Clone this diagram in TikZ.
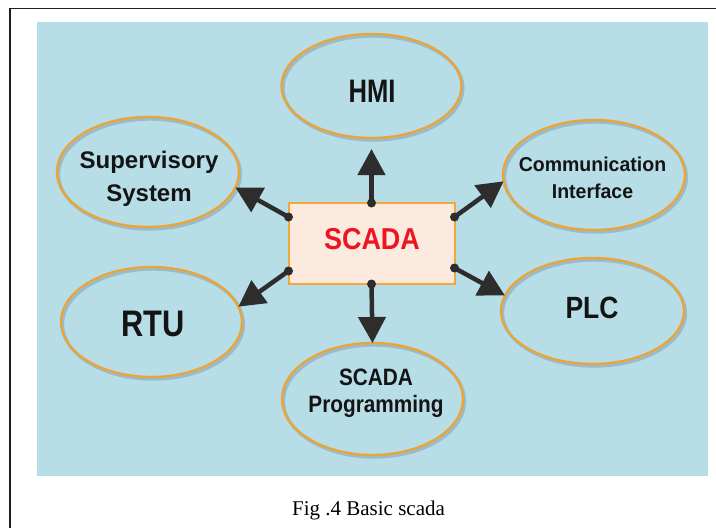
\documentclass[tikz,border=0pt]{standalone}
\usepackage{fontspec}
\setmainfont{Liberation Serif}
\newfontfamily\headsans{Liberation Sans}
\usetikzlibrary{arrows.meta,shapes.geometric,calc}

\definecolor{panel}{RGB}{183,221,231}
\definecolor{ring}{RGB}{234,165,58}
\definecolor{ringshade}{RGB}{128,162,180}
\definecolor{boxfill}{RGB}{253,234,222}
\definecolor{boxline}{RGB}{240,168,60}
\definecolor{ink}{RGB}{45,45,45}
\definecolor{scadared}{RGB}{236,22,34}
\definecolor{frame}{RGB}{30,30,30}

% stretched text block, centred lines
\newcommand\stack[2]{\scalebox{1}[#1]{\begin{tabular}{@{}c@{}}#2\end{tabular}}}

\begin{document}
\begin{tikzpicture}[x=1pt,y=-1pt,
  oval/.style={ellipse, draw=ring, line width=2.4pt, inner sep=0pt, outer sep=0pt,
    preaction={draw=ringshade, line width=3pt, opacity=0.55,
      transform canvas={shift={(1.6pt,-2.2pt)}}}},
  lbl/.style={inner sep=0pt, text=black!92, align=center},
  link/.style={draw=ink, line width=4.5pt, -{Triangle[length=26pt,width=27pt]}},
  dot/.style={fill=ink}]

\useasboundingbox (0,0) rectangle (716,528);

% page frame (top and left edges)
\draw[frame, line width=1.8pt] (10,528) -- (10,8.5) -- (716,8.5);

% blue panel
\fill[panel] (37,22) rectangle (708,476);

% central block
\node[draw=boxline, fill=boxfill, line width=2pt, inner sep=0pt, outer sep=0pt,
  minimum width=166pt, minimum height=81pt] (scada) at (371.5,243.5) {};
\node[lbl, text=scadared, font=\headsans\bfseries\fontsize{27}{32}\selectfont]
  (scadaT) at (372,239) {\scalebox{1}[1.12]{SCADA}};

% surrounding components
\node[oval, minimum width=180pt, minimum height=104pt] (hmi)  at (371.5,86) {};
\node[oval, minimum width=182pt, minimum height=110pt] (sup)  at (148,172) {};
\node[oval, minimum width=182pt, minimum height=110pt] (comm) at (594,175) {};
\node[oval, minimum width=181pt, minimum height=110pt] (rtu)  at (151.5,322) {};
\node[oval, minimum width=183pt, minimum height=106pt] (plc)  at (592.5,311) {};
\node[oval, minimum width=181pt, minimum height=112pt] (prog) at (372.5,399) {};

\node[lbl, font=\headsans\bfseries\fontsize{25.6}{30}\selectfont] (hmiT) at (372,91)
  {\scalebox{1}[1.27]{HMI}};
\node[lbl, font=\headsans\bfseries\fontsize{24}{33}\selectfont] (supT) at (149,178)
  {\stack{1}{Supervisory\\System}};
\node[lbl, font=\headsans\bfseries\fontsize{19.5}{26}\selectfont] (commT) at (592.5,180)
  {\stack{1.03}{Communication\\Interface}};
\node[lbl, font=\headsans\bfseries\fontsize{30.8}{36}\selectfont] (rtuT) at (153,324)
  {\scalebox{1}[1.2]{RTU}};
\node[lbl, font=\headsans\bfseries\fontsize{26.5}{31}\selectfont] (plcT) at (592,308)
  {\scalebox{1}[1.16]{PLC}};
\node[lbl, font=\headsans\bfseries\fontsize{20.8}{23.7}\selectfont] (progT) at (376,394)
  {\stack{1.14}{SCADA\\Programming}};

% connection points on the block
\coordinate (pN)  at (scada.north);
\coordinate (pS)  at (scada.south);
\coordinate (pNW) at ($(scada.north west)+(0,14)$);
\coordinate (pSW) at ($(scada.south west)+(0,-13)$);
\coordinate (pNE) at ($(scada.north east)+(0,14)$);
\coordinate (pSE) at ($(scada.south east)+(0,-16)$);

% arrows
\draw[link, shorten >=11pt] (pN) -- (hmi.south);
\draw[link] (pNW) -- (sup.-10);
\draw[link] (pNE) -- (comm.184);
\draw[link] (pSW) -- (rtu.10);
\draw[link] (pSE) -- (plc.170);
\draw[link] (pS) -- (prog.north);

\foreach \p in {pN,pS,pNW,pSW,pNE,pSE}
  \fill[dot] (\p) circle (4.5pt);

% caption
\node[inner sep=0pt, anchor=base, font=\fontsize{21}{25}\selectfont] (caption)
  at (368.5,515) {Fig .4 Basic scada};
\end{tikzpicture}
\end{document}
